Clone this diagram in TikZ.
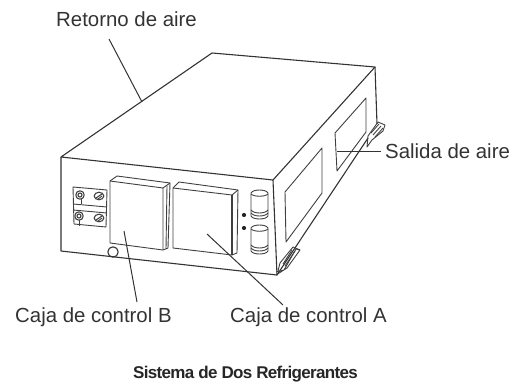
\documentclass[tikz,border=0pt]{standalone}
\usepackage{fontspec}
\setmainfont{Liberation Sans}
\tikzset{
 body/.style={draw=black!80,line width=1.1pt,line join=round},
 thin part/.style={draw=black!75,line width=0.9pt,line join=round},
 leader/.style={draw=black!80,line width=1pt},
 lab/.style={inner sep=0pt,font=\fontsize{20.4}{24}\selectfont,text=black!80,anchor=base west},
}
\begin{document}
\begin{tikzpicture}[x=1pt,y=-1pt]
\useasboundingbox (0,0) rectangle (524,385);
% coordinates
\coordinate (fl) at (61,157);
\coordinate (fr) at (273,180);
\coordinate (br) at (375,67);
\coordinate (bl) at (212,53);
\coordinate (dl) at (61,251);
\coordinate (dr) at (277,275);
% body
\draw[body] (fl) -- (bl) -- (br) -- (fr) -- cycle;
\draw[body] (fl) -- (dl) -- (dr) -- (fr);
\draw[body] (br) -- (377,124);
\draw[body] (dr) -- (368,138);
% side panels
\draw[thin part] (285,192) -- (322,148) -- (322,193) -- (286,242) -- cycle;
\draw[thin part] (335,133) -- (366,98) -- (366,132) -- (337,171) -- cycle;
% lower bracket
\draw[thin part] (276,272) -- (284,270) -- (296,249) -- (300,250) -- (287,268) -- (276,275);
\draw[thin part] (280,263) -- (293,247) -- (300,250);
\draw[thin part] (280,263) -- (278,271);
\draw[thin part] (283,264) -- (292,250);
\draw[thin part] (285,266) -- (295,251);
% upper bracket
\draw[thin part] (367,147) -- (368,136) -- (378,122) -- (385,125) -- (383,131) -- (372,140) -- cycle;
\draw[thin part] (371,133) -- (379,124);
\draw[thin part] (373,135) -- (381,126);
\draw[thin part] (375,137) -- (383,128);
% terminal plate
\draw[thin part] (73,187) -- (107,190) -- (106,227) -- (74,224) -- cycle;
\draw[thin part] (73,204) -- (107,207);
\draw[thin part] (73,210) -- (107,213);
\foreach \p/\q in {80/195,79/216}{
  \draw[thin part,line width=1.1pt] (\p,\q) circle (4.2);
  \draw[thin part,line width=1.1pt] (\p,\q) circle (2);
}
\foreach \p/\q in {99/196,99/218}{
  \draw[thin part,line width=1.1pt] (\p,\q) ellipse (4.8 and 3.8);
  \draw[thin part,line width=1.1pt] (\p-3,\q+2) -- (\p+3,\q-2);
  \draw[thin part] (\p-1,\q+3) -- (\p+3,\q);
}
\draw[thin part] (81,199) -- (81,204);
\draw[thin part] (79,220) -- (79,226);
% control box B
\draw[thin part] (110,181) -- (117,176) -- (170,183) -- (168,248) -- (163,250) -- (110,243) -- cycle;
\draw[thin part] (110,181) -- (163,188) -- (163,250);
\draw[thin part] (163,188) -- (170,183);
\draw[thin part] (167,186) -- (166,249);
% control box A
\draw[thin part] (173,188) -- (179,182) -- (238,190) -- (237,253) -- (232,255) -- (173,248) -- cycle;
\draw[thin part] (173,188) -- (232,195) -- (232,255);
\draw[thin part] (232,195) -- (238,190);
\draw[thin part,line width=1.3pt] (232,195) -- (232,255);
% round knob
\draw[body] (113,252) circle (5.2);
% dots
\fill[black!85] (244,215) circle (2.1);
\fill[black!85] (244,228) circle (2.1);
% capsules
\foreach \yy in {190,225}{
  \draw[thin part] (251,\yy+3) .. controls (253,\yy-1) and (266,\yy-1) .. (268,\yy+3)
    -- (268,\yy+26) .. controls (266,\yy+30) and (253,\yy+30) .. (251,\yy+26) -- cycle;
  \draw[thin part] (251,\yy+4) .. controls (254,\yy+7) and (265,\yy+7) .. (268,\yy+4);
  \draw[thin part] (251,\yy+20) .. controls (254,\yy+24) and (265,\yy+24) .. (268,\yy+20);
  \draw[thin part] (251,\yy+23) .. controls (254,\yy+27) and (265,\yy+27) .. (268,\yy+23);
}
% labels
\node[lab] (ret) at (56,27) {Retorno de aire};
\node[lab] (sal) at (385,158) {Salida de aire};
\node[lab] (cb) at (15,322.5) {Caja de control B};
\node[lab] (ca) at (230,322.5) {Caja de control A};
\node[inner sep=0pt,font=\fontsize{17}{20}\bfseries\selectfont\addfontfeature{LetterSpace=-4},text=black!85,anchor=base] (title) at (245.5,378) {Sistema de Dos Refrigerantes};
% leaders
\coordinate (retstart) at (109,39);
\coordinate (retend) at (142,102);
\coordinate (salend) at (337,151);
\coordinate (salstart) at (381,151);
\coordinate (cbend) at (124,231);
\coordinate (cbstart) at (137,302);
\coordinate (caend) at (207,234);
\coordinate (castart) at (283,305);
\draw[leader] (retend) -- (retstart);
\draw[leader] (salend) -- (salstart);
\draw[leader] (cbend) -- (cbstart);
\draw[leader] (caend) -- (castart);
\end{tikzpicture}
\end{document}
